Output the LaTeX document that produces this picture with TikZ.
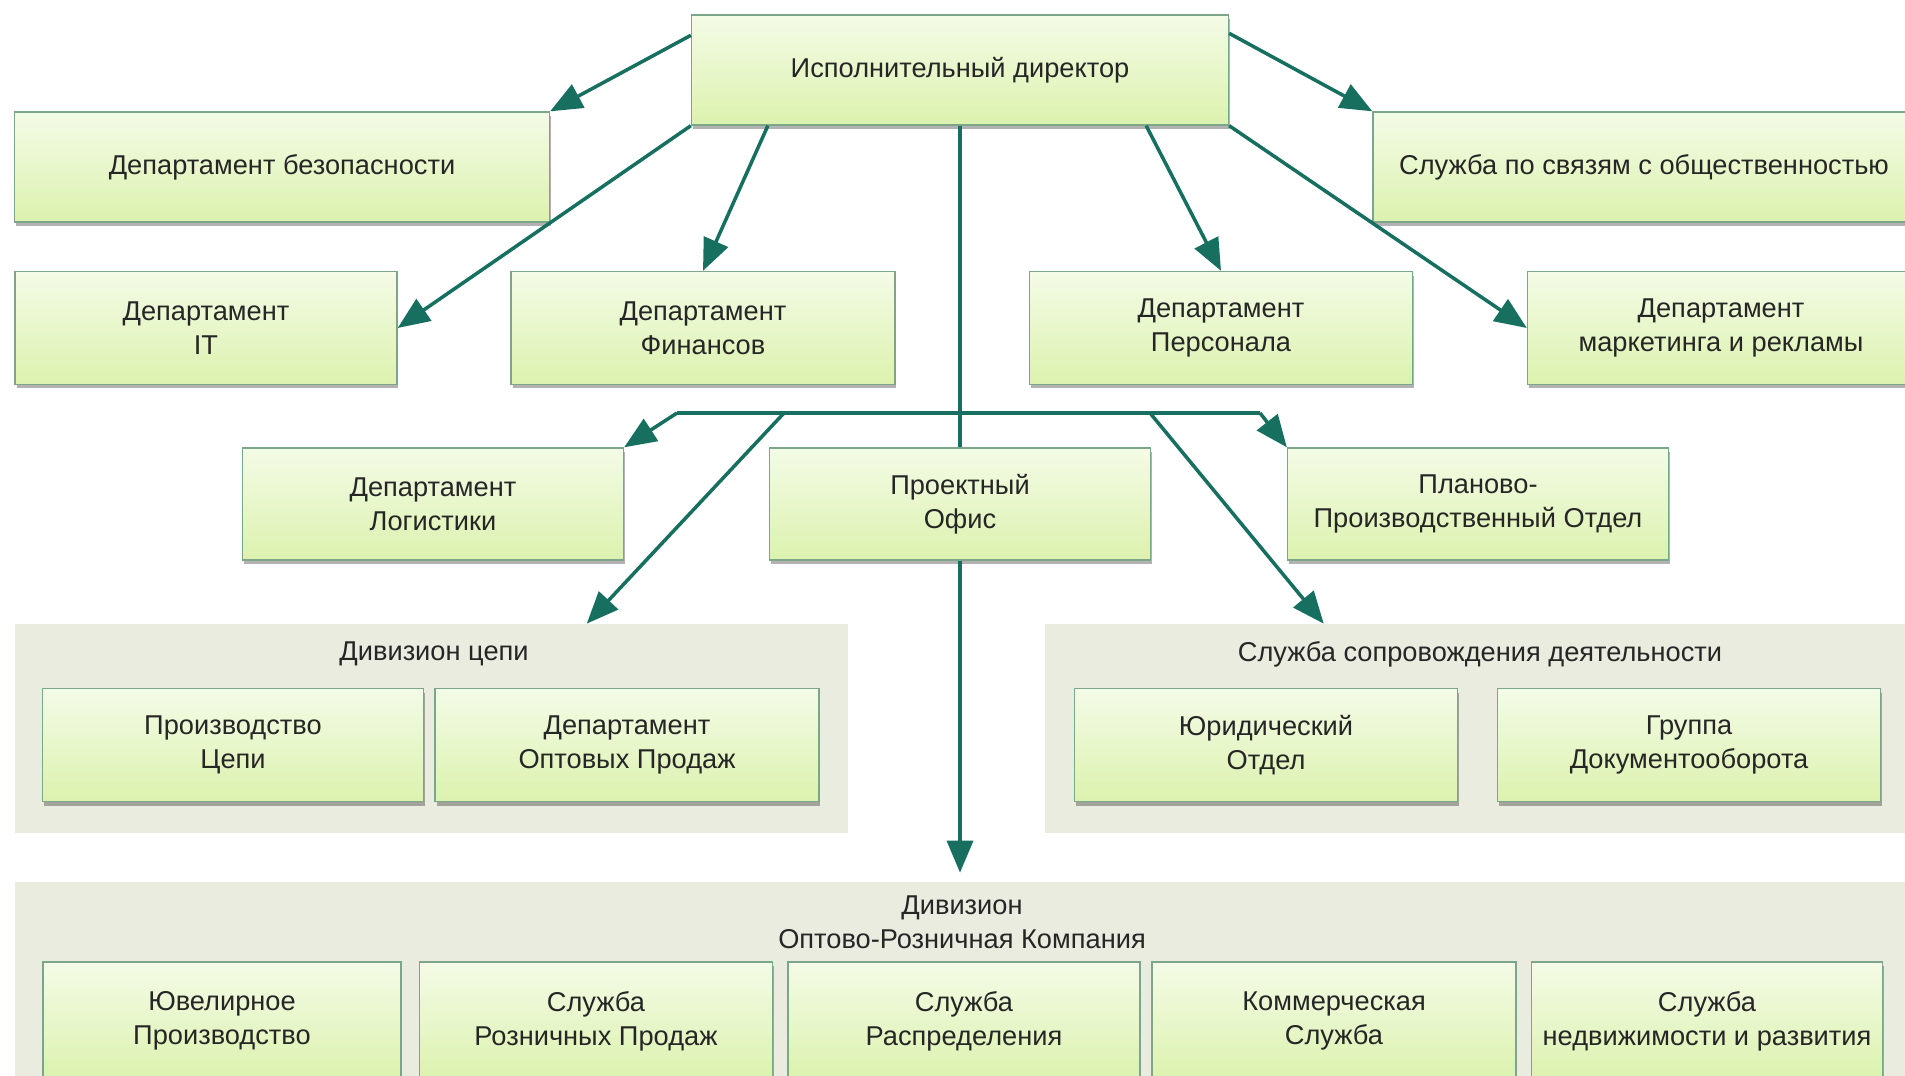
\documentclass[tikz,border=0pt]{standalone}
\usepackage{fontspec}
\setmainfont{Liberation Sans}
\usetikzlibrary{positioning,arrows.meta,shadows,calc}
\definecolor{linegreen}{HTML}{17705F}
\definecolor{boxtop}{HTML}{F4FBE7}
\definecolor{boxbottom}{HTML}{DCF2AE}
\definecolor{boxborder}{HTML}{7BA68A}
\definecolor{groupfill}{HTML}{E9ECDF}
\definecolor{textgrey}{HTML}{262626}

\begin{document}
\begin{tikzpicture}[x=0.02cm, y=-0.02cm,
      arrowstyle/.style={-{Triangle[length=0.64cm, width=0.52cm]}, line width=2pt, draw=linegreen},
      linestyle/.style={line width=2pt, draw=linegreen}]
  % A box style
  \tikzstyle{boxnode} = [draw=boxborder, line width=0.8pt, rectangle, top color=boxtop, bottom color=boxbottom, text=textgrey, align=center, font=\fontsize{15.5}{19.5}\selectfont, minimum width=7.64cm, minimum height=2.26cm, inner sep=2pt, drop shadow={shadow xshift=0.03cm, shadow yshift=-0.08cm, opacity=0.3, fill=black}]
  \tikzstyle{groupnode} = [rectangle, fill=groupfill, inner sep=0pt]
  \tikzstyle{grouplabel} = [text=textgrey, align=center, font=\fontsize{15.5}{19.5}\selectfont]

  \useasboundingbox (0,0) rectangle (1905,1075);

  % Grey division panels
  \node (DivChain) [groupnode, minimum width=16.66cm, minimum height=4.18cm] at (431.5,728.5) {};
  \node (Support)  [groupnode, minimum width=17.4cm, minimum height=4.18cm] at (1480,728.5) {};
  \node (DivTrade) [groupnode, minimum width=37.8cm, minimum height=4.16cm] at (960,986) {};
  \node (DivChainTitle) [grouplabel] at (434,654) {Дивизион цепи};
  \node (SupportTitle)  [grouplabel] at (1480,654) {Служба сопровождения деятельности};
  \node (DivTradeTitle) [grouplabel] at (962,922) {Дивизион\\Оптово-Розничная Компания};

  % Top rows
  \node (Director)  [boxnode, minimum width=10.74cm, minimum height=2.2cm] at (960,70) {Исполнительный директор};
  \node (Security)  [boxnode, minimum width=10.7cm, minimum height=2.2cm] at (282,167) {Департамент безопасности};
  \node (PR)        [boxnode, minimum width=10.84cm, minimum height=2.2cm] at (1644,167) {Служба по связям с общественностью};
  \node (IT)        [boxnode] at (206,328) {Департамент\\IT};
  \node (Finance)   [boxnode, minimum width=7.68cm] at (703,328) {Департамент\\Финансов};
  \node (Personnel) [boxnode, minimum width=7.66cm] at (1221,328) {Департамент\\Персонала};
  \node (Marketing) [boxnode, minimum width=7.74cm] at (1721,328) {Департамент\\маркетинга и рекламы};

  % Middle row
  \node (Logistics) [boxnode, minimum width=7.62cm, minimum height=2.24cm] at (433,504) {Департамент\\Логистики};
  \node (Project)   [boxnode, minimum width=7.62cm, minimum height=2.24cm] at (960,504) {Проектный\\Офис};
  \node (Planning)  [boxnode, minimum width=7.62cm, minimum height=2.24cm] at (1478,504) {Планово-\\Производственный Отдел};

  % Inside the panels
  \node (ChainProd) [boxnode, minimum width=7.62cm] at (233,745) {Производство\\Цепи};
  \node (Wholesale) [boxnode, minimum width=7.68cm] at (627,745) {Департамент\\Оптовых Продаж};
  \node (Legal)     [boxnode, minimum width=7.66cm] at (1266,745) {Юридический\\Отдел};
  \node (Docs)      [boxnode, minimum width=7.66cm] at (1689,745) {Группа\\Документооборота};

  \node (Jewelry)    [boxnode, minimum width=7.16cm, minimum height=2.36cm] at (222,1021) {Ювелирное\\Производство};
  \node (Retail)     [boxnode, minimum width=7.06cm, minimum height=2.36cm] at (596,1021) {Служба\\Розничных Продаж};
  \node (Distrib)    [boxnode, minimum width=7.04cm, minimum height=2.36cm] at (964,1021) {Служба\\Распределения};
  \node (Commercial) [boxnode, minimum width=7.28cm, minimum height=2.36cm] at (1334,1021) {Коммерческая\\Служба};
  \node (Estate)     [boxnode, minimum width=7.02cm, minimum height=2.36cm] at (1707,1021) {Служба\\недвижимости и развития};

  % Arrows out of the director
  \draw[arrowstyle] ($(Director.north west)+(0,21)$) -- (Security.north east);
  \draw[arrowstyle] ($(Director.north east)+(0,19)$) -- (PR.north west);
  \draw[arrowstyle] (Director.south west) -- (IT.east);
  \draw[arrowstyle] ($(Director.south west)+(77,0)$) -- (Finance.north);
  \draw[arrowstyle] ($(Director.south east)+(-83,0)$) -- (Personnel.north);
  \draw[arrowstyle] (Director.south east) -- (Marketing.west);

  % Main stem and the bar under the second row
  \coordinate (barL) at (677,413);
  \coordinate (barR) at (1260,413);
  \coordinate (toChain) at (784,413);
  \coordinate (toSupport) at (1150,413);
  \draw[linestyle] (Director.south) -- (Project.north);
  \draw[arrowstyle] (Project.south) -- ($(DivTrade.north)+(0,-9)$);
  \draw[linestyle] (barL) -- (barR);
  \draw[arrowstyle] (barL) -- (Logistics.north east);
  \draw[arrowstyle] (barR) -- (Planning.north west);
  \draw[arrowstyle] (toChain) -- ($(DivChain.north west)+(572,0)$);
  \draw[arrowstyle] (toSupport) -- ($(Support.north west)+(279,0)$);
\end{tikzpicture}
\end{document}
